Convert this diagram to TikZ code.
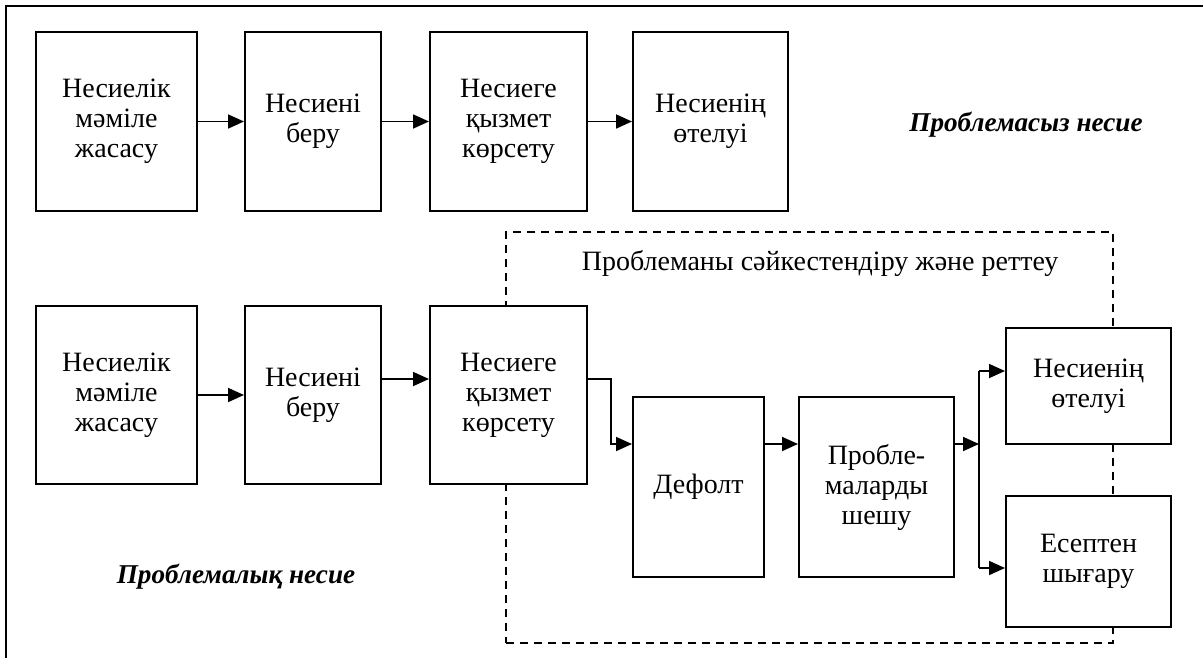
\documentclass[tikz,border=0pt]{standalone}
\usepackage{fontspec}
\setmainfont{Liberation Serif}
\usepackage{tikz}
\usetikzlibrary{positioning}
\usetikzlibrary{arrows.meta}

\begin{document}
\begin{tikzpicture}[x=0.5pt, y=-0.5pt,
        box/.style={draw, line width=1pt, fill=white, align=center,
            inner sep=0pt, font=\fontsize{14}{15}\selectfont,
            execute at begin node={\setlength{\baselineskip}{15pt}}},
        arr/.style={-{Triangle[length=8pt, width=7pt]}, line width=0.9pt},
        lbl/.style={font=\fontsize{13.6}{14.5}\selectfont\bfseries\itshape}]
        \useasboundingbox (0,0) rectangle (1203,658);

        % outer frame
        \draw[line width=1pt] (6,658) -- (6,6) -- (1203,6);

        % problem area
        \node[draw, dash pattern=on 4pt off 3pt, line width=0.9pt,
        minimum width=303.5pt, minimum height=205.5pt] (area) at (809.5,437.5) {};
        \node[font=\fontsize{14}{14.5}\selectfont] (areat) at (820,263)
        {Проблеманы сәйкестендіру және реттеу};

        % top row
        \foreach \n/\x/\w/\t in {1/116.5/80.5/{Несиелік\\мәміле\\жасасу},
            2/313/68/{Несиені\\беру}, 3/508.5/78.5/{Несиеге\\қызмет\\көрсету},
            4/710.5/77.5/{Несиенің\\өтелуі}}
        {
            \node[box, minimum width=\w pt, minimum height=89.5pt]
            (a\n) at (\x,121.5) {\t};
        }
        \foreach \i/\j in {1/2, 2/3, 3/4}
        {
            \draw[arr] (a\i) -- (a\j);
        }
        \node[lbl] (lbla) at (1026,125) {Проблемасыз несие};

        % bottom row
        \foreach \n/\x/\w/\t in {1/116.5/80.5/{Несиелік\\мәміле\\жасасу},
            2/313/68/{Несиені\\беру}, 3/508.5/78.5/{Несиеге\\қызмет\\көрсету}}
        {
            \node[box, minimum width=\w pt, minimum height=89pt]
            (b\n) at (\x,395) {\t};
        }
        \node[box, minimum width=65.5pt, minimum height=90pt]
        (def) at (698.5,487) {Дефолт};
        \node[box, minimum width=77.5pt, minimum height=90pt]
        (prob) at (876.5,487) {Пробле-\\маларды\\шешу};
        \node[box, minimum width=82.5pt, minimum height=58pt]
        (out1) at (1088.5,386) {Несиенің\\өтелуі};
        \node[box, minimum width=82.5pt, minimum height=65.5pt]
        (out2) at (1088.5,561.5) {Есептен\\шығару};
        \node[lbl] (lblb) at (236,577) {Проблемалық несие};

        \draw[arr] (b1) -- (b2);
        \draw[arr] ([yshift=8pt]b2.east) -- ([yshift=8pt]b3.west);
        \draw[arr] ([yshift=8pt]b3.east) -- ++(23,0) |- ([yshift=21.5pt]def.west);
        \draw[arr] ([yshift=21.5pt]def.east) -- ([yshift=21.5pt]prob.west);

        \coordinate (split) at (979,444);
        \coordinate (up) at (979,371);
        \coordinate (dn) at (979,568);
        \draw[arr] ([yshift=21.5pt]prob.east) -- (split);
        \draw[line width=0.9pt] (up) -- (dn);
        \draw[arr] (up) -- (up -| out1.west);
        \draw[arr] (dn) -- (dn -| out2.west);
    \end{tikzpicture}
\end{document}
